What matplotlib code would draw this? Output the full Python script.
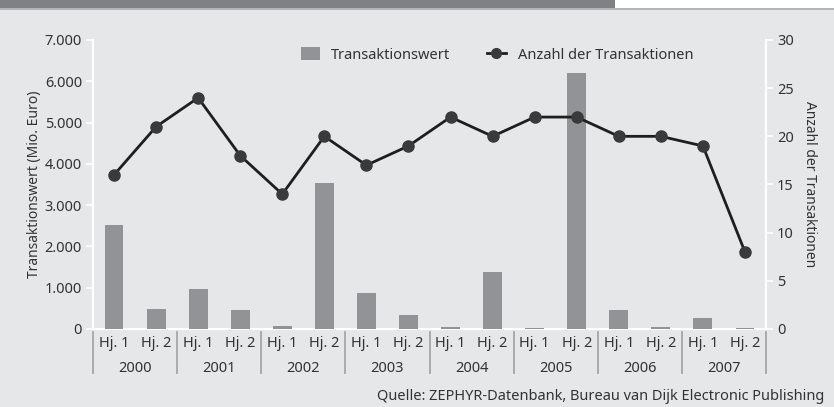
import matplotlib.pyplot as plt
from matplotlib.patches import Rectangle
from matplotlib.lines import Line2D
from matplotlib.ticker import FuncFormatter
import matplotlib.transforms as mtransforms

plt.rcParams['font.family'] = ['Noto Sans', 'DejaVu Sans']

years = ['2000', '2001', '2002', '2003', '2004', '2005', '2006', '2007']
halves = ['Hj. 1', 'Hj. 2']
wert = [2520, 490, 970, 470, 80, 3540, 870, 330, 50, 1370, 20, 6200, 450, 50, 270, 20]
anzahl = [16, 21, 24, 18, 14, 20, 17, 19, 22, 20, 22, 22, 20, 20, 19, 8]

bg = '#e6e7e9'
txt = '#333333'
bar_col = '#929396'

fig = plt.figure(figsize=(8.34, 4.07), dpi=100, facecolor=bg)

# top banner (cut off in the original)
fig.patches.append(Rectangle((0, 1 - 8 / 407), 615 / 834, 8 / 407, transform=fig.transFigure,
                             facecolor='#808085', edgecolor='none'))
fig.patches.append(Rectangle((615 / 834, 1 - 8 / 407), 219 / 834, 8 / 407, transform=fig.transFigure,
                             facecolor='white', edgecolor='none'))
fig.patches.append(Rectangle((0, 1 - 10 / 407), 1, 2 / 407, transform=fig.transFigure,
                             facecolor='#b4b5b8', edgecolor='none'))

ax = fig.add_axes([93 / 834, 1 - 329 / 407, 673 / 834, 289 / 407])
ax.set_facecolor(bg)
x = list(range(len(wert)))
ax.bar(x, wert, width=0.45, color=bar_col, zorder=3)
ax.set_xlim(-0.5, 15.5)
ax.set_ylim(0, 7000)
ax.set_yticks(range(0, 7001, 1000))
ax.yaxis.set_major_formatter(FuncFormatter(lambda v, p: f'{int(v):,}'.replace(',', '.')))
ax.set_xticks(x)
ax.set_xticklabels(halves * len(years))
ax.tick_params(axis='x', length=0, pad=5, labelsize=10.5, colors=txt)
ax.tick_params(axis='y', length=5, width=1.2, color='white', labelsize=10.5, labelcolor=txt, pad=3)
for s in ['top', 'right']:
    ax.spines[s].set_visible(False)
for s in ['left', 'bottom']:
    ax.spines[s].set_color('white')
    ax.spines[s].set_linewidth(1.5)
ax.set_ylabel('Transaktionswert (Mio. Euro)', fontsize=10, color=txt, labelpad=2)

ax2 = ax.twinx()
ax2.plot(x, anzahl, color='#1e1e1e', lw=2, marker='o', markersize=8,
         markerfacecolor='#3a3a3a', markeredgecolor='#3a3a3a', zorder=3)
ax2.set_ylim(0, 30)
ax2.set_yticks(range(0, 31, 5))
ax2.tick_params(axis='y', length=5, width=1.2, color='white', labelsize=10.5, labelcolor=txt, pad=3)
for s in ['top', 'left', 'bottom']:
    ax2.spines[s].set_visible(False)
ax2.spines['right'].set_color('white')
ax2.spines['right'].set_linewidth(1.5)
ax2.set_ylabel('Anzahl der Transaktionen', fontsize=10, color=txt, rotation=270, labelpad=17)

# year labels and group separators
trans = mtransforms.blended_transform_factory(ax.transData, ax.transAxes)
for i, yr in enumerate(years):
    ax.text(2 * i + 0.5, -0.135, yr, transform=trans, ha='center', va='center',
            fontsize=10.5, color=txt)
for i in range(len(years) + 1):
    ax.plot([2 * i - 0.5, 2 * i - 0.5], [-0.01, -0.152], transform=trans, color='#a5a6a9',
            lw=1.3, clip_on=False)

handles = [Rectangle((0, 0), 1, 1, facecolor=bar_col, edgecolor='none'),
           Line2D([], [], color='#1e1e1e', lw=2, marker='o', markersize=7,
                  markerfacecolor='#3a3a3a', markeredgecolor='#3a3a3a')]
ax2.legend(handles, ['Transaktionswert', 'Anzahl der Transaktionen'], ncol=2, frameon=False,
           loc='upper center', bbox_to_anchor=(0.6, 1.02), fontsize=10.5, labelcolor=txt,
           handlelength=1.3, handleheight=1.0, columnspacing=2.5, handletextpad=0.8)

fig.text(824 / 834, 1 - 397 / 407, 'Quelle: ZEPHYR-Datenbank, Bureau van Dijk Electronic Publishing',
         ha='right', va='center', fontsize=10.5, color=txt)

fig.savefig('out.png', dpi=100, facecolor=bg)
